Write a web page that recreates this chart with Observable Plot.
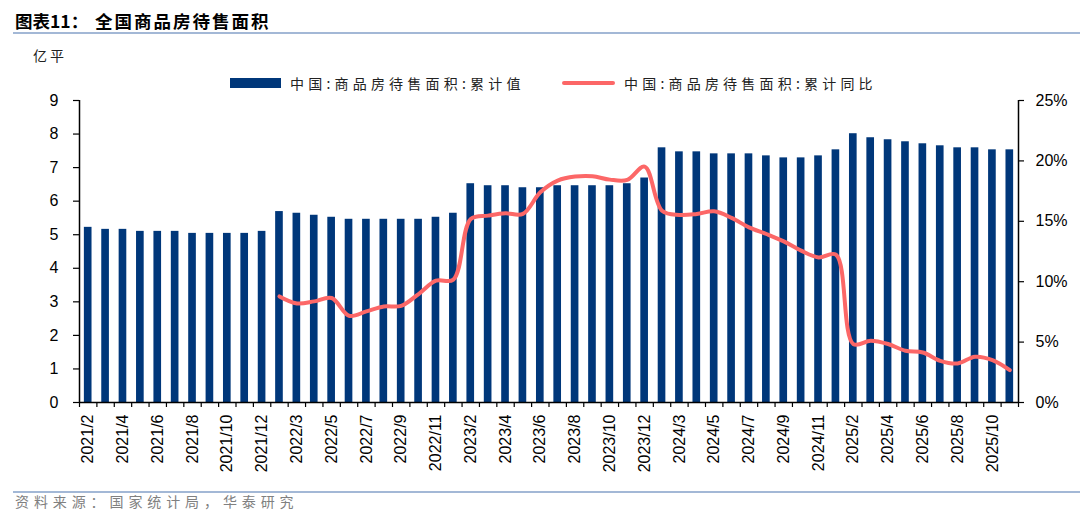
<!DOCTYPE html>
<html>
<head>
<meta charset="utf-8">
<script src="https://cdn.jsdelivr.net/npm/d3@7"></script>
<script src="https://cdn.jsdelivr.net/npm/@observablehq/plot@0.6"></script>
<style>
  html, body { margin: 0; padding: 0; background: #fff; }
  #wrap { position: relative; width: 1080px; height: 525px; overflow: hidden; font-family: "Noto Sans CJK SC", "Liberation Sans", sans-serif; }
  #wrap svg { position: absolute; left: 0; top: 0; }
  .abs { position: absolute; white-space: nowrap; }
  .rule { position: absolute; left: 13px; right: 0; height: 2px; background: #a3b8d6; }
</style>
</head>
<body>
<div id="wrap">
  <div class="abs" style="left:15px; top:9px; font-size:17.5px; font-weight:bold; line-height:24px;">图表11：</div>
  <div class="abs" style="left:95px; top:9px; font-size:17.5px; font-weight:bold; line-height:24px; letter-spacing:2px;">全国商品房待售面积</div>
  <div class="rule" style="top:32px;"></div>
  <div class="abs" style="left:33px; top:45px; font-size:14px; line-height:20px; letter-spacing:3px; color:#222;">亿平</div>
  <div class="abs" style="left:230px; top:78px; width:51px; height:10px; background:#00377a;"></div>
  <div class="abs" id="lg1" style="left:290px; top:73px; font-size:14px; line-height:20px; letter-spacing:4.2px; color:#222;"></div>
  <div class="abs" style="left:562px; top:81px; width:53px; height:4px; border-radius:2px; background:#fc6767;"></div>
  <div class="abs" id="lg2" style="left:624px; top:73px; font-size:14px; line-height:20px; letter-spacing:4.2px; color:#222;"></div>
  <div class="rule" style="top:491px;"></div>
  <div class="abs" style="left:15px; top:491px; font-size:14px; line-height:20px; letter-spacing:4.9px; color:#808080;">资料来源：国家统计局，华泰研究</div>
</div>
<script>
// ---- data ----
const months = [
  "2021/2","2021/3","2021/4","2021/5","2021/6","2021/7","2021/8","2021/9","2021/10","2021/11","2021/12",
  "2022/2","2022/3","2022/4","2022/5","2022/6","2022/7","2022/8","2022/9","2022/10","2022/11","2022/12",
  "2023/2","2023/3","2023/4","2023/5","2023/6","2023/7","2023/8","2023/9","2023/10","2023/11","2023/12",
  "2024/2","2024/3","2024/4","2024/5","2024/6","2024/7","2024/8","2024/9","2024/10","2024/11","2024/12",
  "2025/2","2025/3","2025/4","2025/5","2025/6","2025/7","2025/8","2025/9","2025/10","2025/11"
];
// 累计值 (亿平方米)
const cumValue = [
  5.22,5.16,5.16,5.10,5.10,5.10,5.04,5.04,5.04,5.04,5.10,
  5.69,5.64,5.58,5.52,5.46,5.46,5.46,5.46,5.46,5.52,5.64,
  6.52,6.46,6.46,6.40,6.40,6.46,6.46,6.46,6.46,6.52,6.69,
  7.59,7.47,7.47,7.41,7.41,7.41,7.35,7.29,7.29,7.35,7.53,
  8.01,7.89,7.83,7.77,7.71,7.65,7.59,7.59,7.53,7.53
];
// 累计同比 (%)
const yoyPct = [
  null,null,null,null,null,null,null,null,null,null,null,
  8.78,8.20,8.37,8.65,7.18,7.54,7.95,8.00,8.98,10.08,10.17,
  15.19,15.47,15.66,15.61,17.40,18.37,18.70,18.73,18.45,18.43,19.53,
  15.88,15.53,15.61,15.83,15.28,14.50,13.95,13.34,12.57,12.01,12.24,
  4.84,5.11,4.84,4.28,4.14,3.45,3.23,3.79,3.51,2.68
];
const xTickLabels = [
  "2021/2","2021/4","2021/6","2021/8","2021/10","2021/12",
  "2022/3","2022/5","2022/7","2022/9","2022/11",
  "2023/2","2023/4","2023/6","2023/8","2023/10","2023/12",
  "2024/3","2024/5","2024/7","2024/9","2024/11",
  "2025/2","2025/4","2025/6","2025/8","2025/10"
];
const leftTicks = [0,1,2,3,4,5,6,7,8,9];
const rightTicks = [0,5,10,15,20,25];
const seriesNames = ["中国:商品房待售面积:累计值", "中国:商品房待售面积:累计同比"];

document.getElementById("lg1").textContent = seriesNames[0];
document.getElementById("lg2").textContent = seriesNames[1];

// ---- layout ----
const W = 1080, H = 525;
const mL = 79, mR = 62, mT = 100, mB = 123;
const leftMax = 9, rightMax = 25;
const k = leftMax / rightMax; // map % onto left scale
const step = (W - mL - mR) / months.length;
const pxPerUnit = (H - mT - mB) / leftMax;
const tickLen = 5 / pxPerUnit;

const table = months.map((m, i) => ({m, v: cumValue[i], p: yoyPct[i]}));
const lineData = table.filter(d => d.p != null);
const last = months[months.length - 1];

const chart = Plot.plot({
  width: W, height: H,
  marginLeft: mL, marginRight: mR, marginTop: mT, marginBottom: mB,
  style: {fontFamily: "Arial, 'Liberation Sans', sans-serif", fontSize: "16px", color: "#000", background: "transparent", overflow: "visible"},
  x: {type: "band", domain: months, paddingInner: 0.56, paddingOuter: 0.28, round: false, axis: null},
  y: {domain: [0, leftMax], axis: null},
  marks: [
    Plot.barY(table, {x: "m", y: "v", fill: "#00377a"}),
    Plot.line(lineData, {x: "m", y: d => d.p * k, stroke: "#fc6767", strokeWidth: 4, curve: "catmull-rom", strokeLinejoin: "round", strokeLinecap: "round"}),
    // axis lines
    Plot.ruleY([0], {stroke: "#000", strokeWidth: 1.5}),
    Plot.ruleX([months[0]], {x: d => d, dx: -step / 2, y1: 0, y2: leftMax, stroke: "#000", strokeWidth: 1.5}),
    Plot.ruleX([last], {x: d => d, dx: step / 2, y1: 0, y2: leftMax, stroke: "#000", strokeWidth: 1.5}),
    // x tick marks at category boundaries
    Plot.ruleX(months, {x: d => d, dx: -step / 2, y1: 0, y2: -tickLen, stroke: "#000", strokeWidth: 1.2}),
    Plot.ruleX([last], {x: d => d, dx: step / 2, y1: 0, y2: -tickLen, stroke: "#000", strokeWidth: 1.2}),
    Plot.axisX(xTickLabels, {tickSize: 0, tickRotate: -90, tickPadding: 12, fontSize: 16, letterSpacing: 0.8, label: null}),
    Plot.axisY(leftTicks, {anchor: "left", tickSize: 6, tickPadding: 15, fontSize: 16, strokeWidth: 1.2, label: null}),
    Plot.axisY(rightTicks.map(p => p * k), {anchor: "right", tickSize: 5, tickPadding: 12, fontSize: 16, strokeWidth: 1.2, label: null,
      tickFormat: d => Math.round(d / k) + "%"})
  ]
});
document.getElementById("wrap").prepend(chart);
</script>
</body>
</html>
